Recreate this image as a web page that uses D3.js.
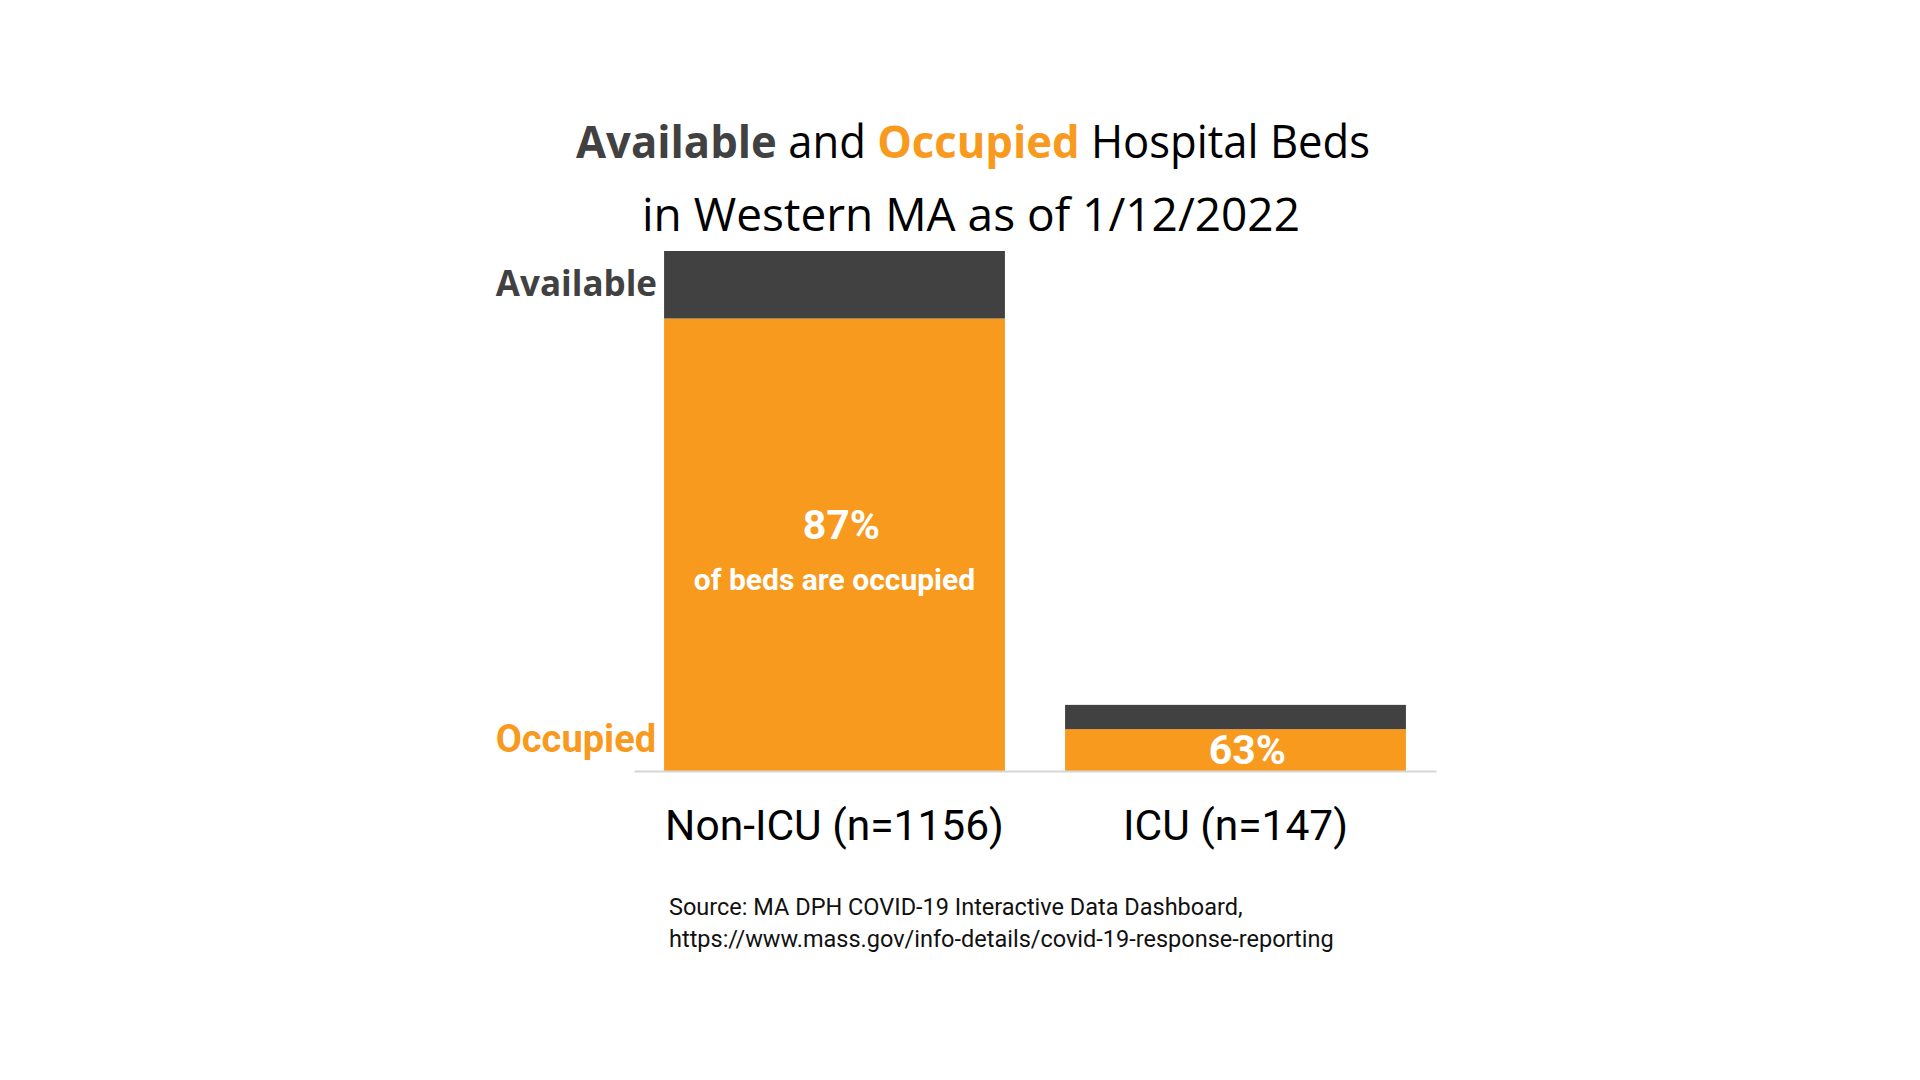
<!DOCTYPE html>
<html>
<head>
<meta charset="utf-8">
<script src="https://cdn.jsdelivr.net/npm/d3@7"></script>
<style>
  html, body { margin: 0; padding: 0; background: #fff; }
  svg { display: block; }
</style>
</head>
<body>
<svg id="chart"></svg>
<script>
const width = 1920;
const height = 1080;

// chart values
const categories = ["Non-ICU (n=1156)", "ICU (n=147)"];
const totals = [1156, 147];
const occupied = [1006, 93];
const available = [150, 54];
const pctLabels = ["87%", "63%"];
const sourceLines = [
    "Source: MA DPH COVID-19 Interactive Data Dashboard,",
    "https://www.mass.gov/info-details/covid-19-response-reporting"
];

const orange = "#f79a1e";
const dark = "#414141";

const svg = d3.select("#chart")
    .attr("width", width)
    .attr("height", height);

let x = d3.scaleBand().domain(categories).range([634, 1436]).paddingInner(0.15).paddingOuter(0.075);
let y = d3.scaleLinear().domain([0, d3.max(totals)]).range([771, 251]);

let rows = categories.map((c, i) => ({
    cat: c,
    occupied: occupied[i],
    available: available[i],
    pct: pctLabels[i]
}));

let stack = d3.stack().keys(["occupied", "available"]);
let series = stack(rows);
let colors = { occupied: orange, available: dark };

svg.selectAll("g.layer").data(series).enter().append("g").attr("class", "layer")
    .attr("fill", d => colors[d.key])
    .selectAll("rect").data(d => d).enter().append("rect")
    .attr("x", d => x(d.data.cat))
    .attr("y", d => y(d[1]))
    .attr("width", x.bandwidth())
    .attr("height", d => y(d[0]) - y(d[1]));

// x axis
let axis = svg.append("g")
    .attr("transform", `translate(0, ${y(0)})`)
    .call(d3.axisBottom(x).tickSize(0).tickPadding(39));
axis.select(".domain").attr("stroke", "#d6d6d6").attr("stroke-width", 2);
axis.selectAll("text")
    .style("font-family", "Roboto")
    .style("font-size", "42.5px")
    .attr("fill", "#000");

// title
let title = svg.append("text")
    .attr("x", 973).attr("y", 158)
    .attr("text-anchor", "middle")
    .attr("textLength", 794)
    .attr("lengthAdjust", "spacingAndGlyphs")
    .style("font-family", "Open Sans")
    .style("font-size", "45px")
    .attr("fill", "#000");
title.append("tspan").text("Available").attr("font-weight", "bold").attr("fill", dark);
title.append("tspan").text(" and ");
title.append("tspan").text("Occupied").attr("font-weight", "bold").attr("fill", orange);
title.append("tspan").text(" Hospital Beds");

svg.append("text")
    .attr("x", 971).attr("y", 231)
    .attr("text-anchor", "middle")
    .style("font-family", "Open Sans")
    .style("font-size", "46px")
    .attr("fill", "#000")
    .text("in Western MA as of 1/12/2022");

// side labels
svg.append("text")
    .attr("x", x(categories[0]) - 7).attr("y", y(totals[0]) + 45)
    .attr("text-anchor", "end")
    .style("font-family", "Open Sans")
    .style("font-weight", "bold")
    .style("font-size", "35px")
    .attr("fill", dark)
    .text("Available");

svg.append("text")
    .attr("x", x(categories[0]) - 8).attr("y", y(0) - 19)
    .attr("text-anchor", "end")
    .style("font-family", "Roboto")
    .style("font-weight", "bold")
    .style("font-size", "38px")
    .attr("fill", orange)
    .text("Occupied");

// percentage labels inside bars
let cx = d => x(d) + x.bandwidth() / 2 + 7;

svg.append("text")
    .attr("x", cx(categories[0])).attr("y", 539)
    .attr("text-anchor", "middle")
    .style("font-family", "Roboto")
    .style("font-weight", "bold")
    .style("font-size", "41px")
    .attr("fill", "#fff")
    .text(pctLabels[0]);

svg.append("text")
    .attr("x", cx(categories[0]) - 7).attr("y", 590)
    .attr("text-anchor", "middle")
    .style("font-family", "Roboto")
    .style("font-weight", "bold")
    .style("font-size", "30px")
    .attr("fill", "#fff")
    .text("of beds are occupied");

svg.append("text")
    .attr("x", cx(categories[1]) + 5).attr("y", y(0) - 7)
    .attr("text-anchor", "middle")
    .style("font-family", "Roboto")
    .style("font-weight", "bold")
    .style("font-size", "41px")
    .attr("fill", "#fff")
    .text(pctLabels[1]);

// source
svg.selectAll(".source").data(sourceLines).enter().append("text")
    .attr("class", "source")
    .attr("x", 669)
    .attr("y", (d, i) => 915 + i * 32)
    .style("font-family", "Roboto")
    .style("font-size", "23.5px")
    .attr("fill", "#111")
    .text(d => d);
</script>
</body>
</html>
